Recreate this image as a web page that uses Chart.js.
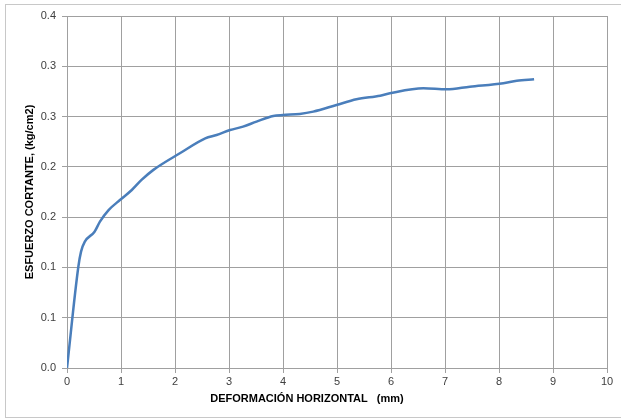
<!DOCTYPE html>
<html>
<head>
<meta charset="utf-8">
<script src="https://cdn.jsdelivr.net/npm/chart.js@4/dist/chart.umd.min.js"></script>
<style>
  html, body { margin: 0; padding: 0; background: #fff; }
  #wrap { position: relative; width: 621px; height: 420px; }
  #frame { position: absolute; left: 5px; top: 4px; width: 620px; height: 414px; border: 1px solid #c8c8c8; box-sizing: border-box; pointer-events: none; }
</style>
</head>
<body>
<div id="wrap">
  <canvas id="chart" width="621" height="420"></canvas>
  <div id="frame"></div>
</div>
<script>
// deformación horizontal (mm)
const deformacion = [0, 0.21, 0.26, 0.33, 0.51, 0.61, 0.77, 0.98, 1.2, 1.38, 1.6, 2.09, 2.56, 2.77, 3.02, 3.26, 3.51, 3.82, 4.0, 4.31, 4.56, 4.99, 5.36, 5.8, 5.98, 6.6, 7.03, 7.46, 8.08, 8.33, 8.65];
// esfuerzo cortante (kg/cm2)
const esfuerzo = [0, 0.1007, 0.1157, 0.1256, 0.1355, 0.1455, 0.157, 0.167, 0.177, 0.187, 0.197, 0.2135, 0.2284, 0.2317, 0.2366, 0.24, 0.245, 0.2506, 0.2516, 0.2526, 0.2549, 0.2615, 0.2672, 0.2708, 0.2731, 0.2781, 0.2771, 0.2797, 0.2831, 0.2857, 0.2871];
// etiquetas del eje Y tal como aparecen (redondeadas a 1 decimal)
const yTickLabels = ['0.0', '0.1', '0.1', '0.2', '0.2', '0.3', '0.3', '0.4'];
const xTitle = 'DEFORMACIÓN HORIZONTAL   (mm)';
const yTitle = 'ESFUERZO CORTANTE, (kg/cm2)';

const gridColor = '#a0a0a0';
const fontFamily = 'Liberation Sans, Arial, sans-serif';
const tickFont = { family: fontFamily, size: 11 };
const titleFont = { family: fontFamily, size: 11, weight: 'bold' };

// the x title sits a bit left of the plot centre in the original, so draw it by hand
const xTitlePlugin = {
    id: 'xTitle',
    afterDraw(chart) {
        const ctx = chart.ctx;
        ctx.save();
        ctx.font = 'bold 11px ' + fontFamily;
        ctx.fillStyle = '#000';
        ctx.textAlign = 'center';
        ctx.textBaseline = 'middle';
        ctx.fillText(xTitle, 307, 399);
        ctx.restore();
    }
};

new Chart(document.getElementById('chart'), {
    type: 'scatter',
    data: {
        datasets: [{
            data: deformacion.map((x, i) => ({ x: x, y: esfuerzo[i] })),
            showLine: true,
            borderColor: '#4a7ebb',
            borderWidth: 2.5,
            pointRadius: 0,
            tension: 0.4,
            cubicInterpolationMode: 'monotone'
        }]
    },
    options: {
        responsive: false,
        animation: false,
        layout: { padding: { top: 16, right: 14, bottom: 0, left: 0 } },
        plugins: { legend: { display: false }, tooltip: { enabled: false } },
        scales: {
            x: {
                type: 'linear', min: 0, max: 10,
                ticks: { stepSize: 1, color: '#404040', font: tickFont, padding: 2, maxRotation: 0 },
                grid: { color: gridColor, tickLength: 5, tickColor: gridColor },
                border: { color: gridColor },
                afterFit: s => { s.height = 52; }
            },
            y: {
                type: 'linear', min: 0, max: 0.35,
                ticks: { stepSize: 0.05, color: '#404040', font: tickFont, padding: 6,
                    callback: (v, i) => yTickLabels[i] },
                grid: { color: gridColor, tickLength: 5, tickColor: gridColor },
                border: { color: gridColor },
                title: { display: true, text: yTitle, color: '#000', font: titleFont, padding: { top: 23, bottom: 0 } },
                afterFit: s => { s.width = 67; }
            }
        }
    },
    plugins: [xTitlePlugin]
});
</script>
</body>
</html>
